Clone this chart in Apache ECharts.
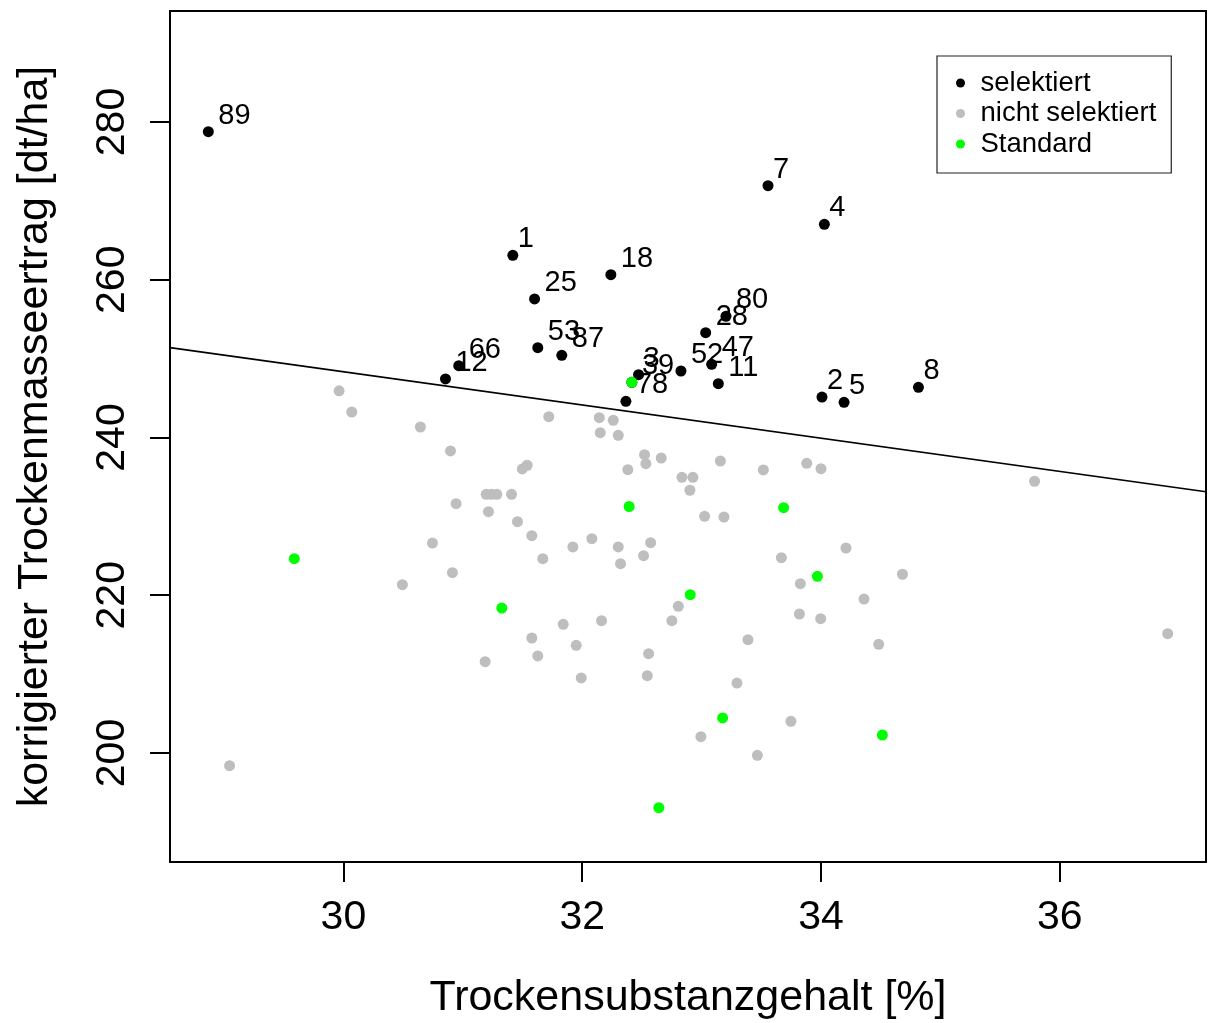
<!DOCTYPE html>
<html>
<head>
<meta charset="utf-8">
<script src="https://cdn.jsdelivr.net/npm/echarts@6/dist/echarts.min.js"></script>
<style>
html,body{margin:0;padding:0;background:#fff;}
#chart{width:1208px;height:1023px;}
</style>
</head>
<body>
<div id="chart"></div>
<script>
// ---- Data ----
const xTicks = [30, 32, 34, 36];
const yTicks = [200, 220, 240, 260, 280];
const xRange = [28.548, 37.224];
const yRange = [186.18, 294.07];

// selektiert (labelled)
const selLabels = ['89','1','18','25','7','4','80','28','53','87','66','12','3','39','52','47','11','78','2','5','8'];
const selX = [28.869,31.419,32.240,31.601,33.556,34.028,33.204,33.034,31.628,31.829,30.966,30.855,32.472,32.416,32.827,33.084,33.140,32.366,34.008,34.193,34.816];
const selY = [278.77,263.10,260.64,257.56,271.92,267.03,255.37,253.29,251.39,250.42,249.10,247.42,247.96,247.00,248.43,249.28,246.82,244.59,245.13,244.46,246.36];

// nicht selektiert
const nonX = [29.964,30.070,30.645,30.897,31.720,32.143,32.260,32.151,32.302,32.522,32.533,32.382,31.539,31.498,31.196,31.240,31.285,31.408,30.944,31.215,31.458,31.578,32.081,31.922,32.302,32.573,32.514,32.321,31.670,30.746,30.913,30.494,32.662,32.835,32.927,32.902,33.157,33.517,33.880,34.000,33.025,33.187,33.668,34.209,34.682,33.827,34.360,32.805,32.751,33.819,33.997,33.388,34.483,32.556,31.841,32.162,31.578,31.950,31.628,31.187,31.992,29.047,32.545,33.296,33.748,32.994,33.467,35.788,36.903];
const nonY = [245.92,243.23,241.33,238.29,242.64,242.51,242.18,240.61,240.28,237.82,236.68,235.92,236.48,236.01,232.80,232.80,232.80,232.80,231.61,230.59,229.33,227.55,227.17,226.12,226.12,226.66,225.01,224.00,224.63,226.62,222.86,221.34,237.40,234.95,234.95,233.31,237.02,235.88,236.73,236.04,230.01,229.92,224.76,225.99,222.66,221.46,219.52,218.60,216.77,217.62,217.03,214.36,213.78,212.59,216.32,216.77,214.58,213.65,212.30,211.58,209.51,198.39,209.80,208.87,204.02,202.07,199.71,234.45,215.13];

// Standard
const stdX = [29.589,31.327,32.393,32.416,32.905,33.176,33.687,33.970,34.514,32.642];
const stdY = [224.63,218.38,231.25,247.00,220.07,204.44,231.10,222.40,202.28,193.07];

// regression line (abline)
const regIntercept = 311.475;
const regSlope = -2.1047;

const seriesNames = ['selektiert', 'nicht selektiert', 'Standard'];
const xTitle = 'Trockensubstanzgehalt [%]';
const yTitle = 'korrigierter Trockenmasseertrag [dt/ha]';

// ---- Build ----
const FONT = 'Liberation Sans, Arial, sans-serif';
const SYM = 11;
const zip = (xs, ys) => xs.map((x, i) => [x, ys[i]]);
const selData = selX.map((x, i) => ({
  value: [x, selY[i]],
  name: selLabels[i],
  label: { position: [selLabels[i].length === 1 ? 10.5 : 15.5, -10.5] }
}));
const regData = xRange.map(x => [x, regIntercept + regSlope * x]);

const chart = echarts.init(document.getElementById('chart'), null, { renderer: 'canvas' });
chart.setOption({
  animation: false,
  backgroundColor: '#fff',
  textStyle: { fontFamily: FONT },
  grid: {
    left: 170, top: 11, right: 2, bottom: 161,
    containLabel: false,
    outerBoundsMode: 'none',
    show: true, borderColor: '#000', borderWidth: 2, backgroundColor: 'transparent'
  },
  legend: {
    data: seriesNames,
    orient: 'vertical',
    left: 937, top: 56,
    padding: [13, 15, 15, 19],
    itemGap: 2.5,
    itemWidth: 30, itemHeight: 9,
    icon: 'circle',
    borderColor: '#222', borderWidth: 1.2,
    backgroundColor: '#fff',
    textStyle: { fontFamily: FONT, fontSize: 27.5, color: '#000', lineHeight: 28, padding: [0, 0, 0, 0] },
    selectedMode: false
  },
  xAxis: {
    type: 'value',
    min: xRange[0], max: xRange[1],
    name: xTitle,
    nameLocation: 'middle',
    nameGap: 115,
    nameTextStyle: { fontFamily: FONT, fontSize: 43, color: '#000' },
    axisLine: { show: false },
    splitLine: { show: false },
    axisTick: { show: true, inside: false, length: 20, lineStyle: { color: '#000', width: 2 }, customValues: xTicks },
    axisLabel: { show: true, margin: 35, fontFamily: FONT, fontSize: 41, color: '#000', customValues: xTicks }
  },
  yAxis: {
    type: 'value',
    min: yRange[0], max: yRange[1],
    name: yTitle,
    nameLocation: 'middle',
    nameRotate: 90,
    nameGap: 113,
    nameTextStyle: { fontFamily: FONT, fontSize: 43, color: '#000' },
    axisLine: { show: false },
    splitLine: { show: false },
    axisTick: { show: true, inside: false, length: 20, lineStyle: { color: '#000', width: 2 }, customValues: yTicks },
    axisLabel: { show: true, rotate: 90, margin: 37, fontFamily: FONT, fontSize: 41, color: '#000', customValues: yTicks }
  },
  series: [
    {
      name: seriesNames[1], type: 'scatter', z: 2,
      data: zip(nonX, nonY), symbol: 'circle', symbolSize: SYM,
      itemStyle: { color: '#BEBEBE', opacity: 1 }, silent: true
    },
    {
      name: seriesNames[0], type: 'scatter', z: 3,
      data: selData, symbol: 'circle', symbolSize: SYM,
      itemStyle: { color: '#000', opacity: 1 }, silent: true,
      label: {
        show: true, formatter: '{b}', align: 'left', verticalAlign: 'middle',
        fontFamily: FONT, fontSize: 29, color: '#000'
      },
      labelLayout: { hideOverlap: false }
    },
    {
      name: seriesNames[2], type: 'scatter', z: 4,
      data: zip(stdX, stdY), symbol: 'circle', symbolSize: SYM,
      itemStyle: { color: '#00FF00', opacity: 1 }, silent: true
    },
    {
      name: 'regression', type: 'line', z: 5,
      data: regData, symbol: 'none', silent: true,
      lineStyle: { color: '#000', width: 1.6 }
    }
  ]
});
</script>
</body>
</html>
